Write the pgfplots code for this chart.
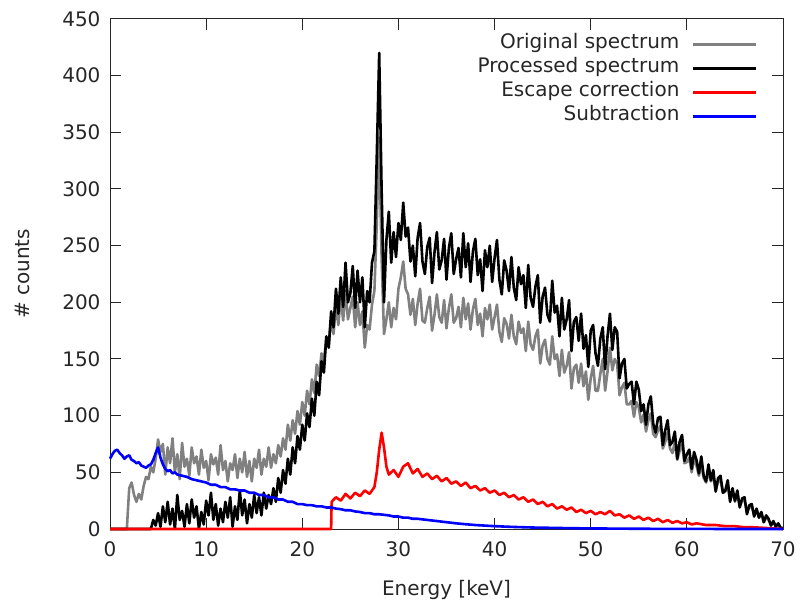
\documentclass[border=0pt]{standalone}
\usepackage{pgfplots}
\pgfplotsset{compat=1.18}
\usepackage{pgfplotstable}
\usepackage{fontspec}
\setmainfont{DejaVu Sans}
\definecolor{origgray}{RGB}{128,128,128}

\pgfplotstableread{
E O P
0 0 0
0.25 0 0
0.5 0 0
0.75 0 0
1.0 0 0
1.25 0 0
1.5 0 0
1.75 0 0
2.0 36 0
2.25 41 0
2.5 30 0
2.75 24 0
3.0 31 0
3.25 26 0
3.5 38 0
3.75 46 0
4.0 44 0
4.25 55 0
4.5 50 8
4.75 62 3
5.0 79 14
5.25 68 2
5.5 75 20
5.75 48 6
6.0 72 24
6.25 58 4
6.5 80 18
6.75 50 0
7.0 66 30
7.25 44 8
7.5 76 16
7.75 55 2
8.0 62 22
8.25 47 5
8.5 72 26
8.75 58 10
9.0 64 20
9.25 48 0
9.5 70 15
9.75 54 4
10.0 60 25
10.25 43 12
10.5 66 32
10.75 57 8
11.0 63 22
11.25 48 3
11.5 74 18
11.75 52 6
12.0 60 24
12.25 42 10
12.5 58 28
12.75 52 2
13.0 66 20
13.25 45 8
13.5 62 34
13.75 50 12
14.0 68 26
14.25 46 5
14.5 60 22
14.75 42 10
15.0 62 30
15.25 54 14
15.5 70 28
15.75 48 12
16.0 62 32
16.25 55 18
16.5 72 30
16.75 54 22
17.0 66 36
17.25 58 24
17.5 74 45
17.75 64 32
18.0 80 52
18.25 70 40
18.5 92 62
18.75 78 48
19.0 96 72
19.25 84 58
19.5 104 82
19.75 92 70
20.0 112 92
20.25 100 78
20.5 122 102
20.75 110 90
21.0 132 115
21.25 120 100
21.5 145 130
21.75 135 118
22.0 155 148
22.25 148 138
22.5 168 170
22.75 162 160
23.0 185 192
23.25 172 178
23.5 198 212
23.75 180 190
24.0 205 222
24.25 184 196
24.5 210 235
24.75 185 200
25.0 195 208
25.25 205 232
25.5 178 195
25.75 200 228
26.0 180 200
26.25 192 222
26.5 160 178
26.75 180 210
27.0 176 200
27.25 198 235
27.5 210 245
27.75 270 330
28.0 345 420
28.25 240 300
28.5 172 200
28.75 185 255
29.0 200 280
29.25 178 235
29.5 195 262
29.75 185 240
30.0 212 270
30.25 222 255
30.5 236 288
30.75 212 258
31.0 207 266
31.25 189 236
31.5 203 250
31.75 180 223
32.0 199 257
32.25 212 270
32.5 184 236
32.75 182 225
33.0 195 249
33.25 205 257
33.5 175 217
33.75 189 244
34.0 207 262
34.25 187 229
34.5 182 237
34.75 202 256
35.0 177 220
35.25 195 248
35.5 207 261
35.75 182 225
36.0 186 238
36.25 196 248
36.5 178 222
36.75 204 261
37.0 185 231
37.25 199 252
37.5 176 218
37.75 194 245
38.0 203 256
38.25 180 224
38.5 190 238
38.75 170 210
39.0 195 246
39.25 185 231
39.5 198 250
39.75 176 218
40.0 187 239
40.25 198 255
40.5 174 220
40.75 165 207
41.0 186 237
41.25 181 228
41.5 168 210
41.75 189 240
42.0 170 213
42.25 163 202
42.5 183 231
42.75 173 216
43.0 177 224
43.25 157 195
43.5 183 233
43.75 163 204
44.0 158 196
44.25 170 214
44.5 176 224
44.75 146 182
45.0 162 205
45.25 167 213
45.5 150 189
45.75 145 183
46.0 170 219
46.25 150 191
46.5 154 197
46.75 135 170
47.0 158 204
47.25 138 176
47.5 144 185
47.75 156 202
48.0 124 157
48.25 142 183
48.5 145 187
48.75 129 166
49.0 146 190
49.25 126 159
49.5 139 171
49.75 114 143
50.0 133 175
50.25 144 180
50.5 122 155
50.75 122 144
51.0 137 168
51.25 150 178
51.5 122 141
51.75 139 170
52.0 160 190
52.25 140 158
52.5 150 178
52.75 146 174
53.0 118 133
53.25 125 146
53.5 129 150
53.75 110 124
54.0 110 128
54.25 113 130
54.5 99 110
54.75 112 130
55.0 107 123
55.25 94 104
55.5 101 110
55.75 86 92
56.0 96 110
56.25 102 117
56.5 84 93
56.75 81 85
57.0 87 98
57.25 91 99
57.5 71 74
57.75 77 87
58.0 85 96
58.25 71 74
58.5 67 77
58.75 77 86
59.0 61 62
59.25 69 77
59.5 75 83
59.75 58 60
60.0 59 66
60.25 63 70
60.5 50 53
60.75 62 68
61.0 56 61
61.25 47 49
61.5 57 64
61.75 45 47
62.0 41 42
62.25 51 57
62.5 42 43
62.75 47 52
63.0 34 33
63.25 42 45
63.5 43 47
63.75 32 32
64.0 33 34
64.25 38 43
64.5 25 24
64.75 33 36
65.0 24 25
65.25 31 34
65.5 20 19
65.75 25 27
66.0 25 28
66.25 15 13
66.5 19 21
66.75 20 22
67.0 12 11
67.25 17 18
67.5 10 10
67.75 14 15
68.0 6 6
68.25 10 12
68.5 8 9
68.75 4 3
69.0 6 7
69.25 3 2
69.5 4 5
69.75 1 1
70.0 0 1
}\spectra

\pgfplotstableread{
E R
0 0
23.0 0
23.05 24
23.5 28
24 25
24.5 31
25 27
25.5 32
26 29
26.5 34
27 31
27.5 37
27.75 50
28 70
28.25 85
28.5 72
28.75 55
29 48
29.5 52
30 46
30.5 55
31 58
31.5 49
32 53
32.5 46
33 49
33.5 44
34 47
34.5 42
35 45
35.5 40
36 42
36.5 38
37 41
37.5 36
38 38
38.5 34
39 36
39.5 32
40 34
40.5 30
41 32
41.5 28
42 30
42.5 26
43 28
43.5 24
44 26
44.5 22
45 24
45.5 20
46 22
46.5 18
47 20
47.5 17
48 19
48.5 15
49 17
49.5 14
50 16
50.5 13
51 15
51.5 13
52 16
52.5 12
53 13
53.5 10
54 12
54.5 9
55 11
55.5 8
56 10
56.5 7
57 9
57.5 6
58 8
58.5 5.5
59 7
59.5 5
60 6
60.5 4
61 5
62 3.5
63 3.5
64 2.5
65 2.5
66 1.5
67 1.5
68 1
69 0.5
70 0
}\escape

\pgfplotstableread{
E S
0 62
0.25 66
0.5 69
0.75 70
1.0 67
1.25 65
1.5 62
1.75 64
2.0 65
2.25 61
2.5 60
2.75 58
3.0 59
3.25 56
3.5 55
3.75 54
4.0 56
4.25 57
4.5 61
4.75 67
5.0 72
5.25 63
5.5 57
5.75 53
6.0 51
6.25 52
6.5 49
6.75 50
7.0 48
7.5 47
8.0 46
8.5 44
9.0 43
9.5 42
10.0 41
10.5 39
11.0 39
11.5 37
12.0 37
12.5 35
13.0 35
13.5 34
14.0 34
14.5 32
15.0 32
15.5 30
16.0 30
16.5 28
17.0 28
17.5 26
18.0 26
18.5 24
19.0 24
19.5 22
20.0 22
20.5 21
21.0 21
21.5 20
22.0 20
22.5 19
23.0 19
23.5 18
24.0 17.5
24.5 16.5
25.0 16.5
25.5 15.5
26.0 15
26.5 14
27.0 14
27.5 13
28.0 13
28.5 12.5
29.0 12
29.5 11
30.0 11
30.5 10
31.0 10
31.5 9
32.0 9
33.0 8
34.0 7
35.0 6
36.0 5
37.0 4.2
38.0 3.5
39.0 3
40.0 2.5
42.0 1.8
44.0 1.3
46.0 1
48.0 0.7
50.0 0.5
55.0 0.2
60.0 0.1
65 0
70 0
}\subtr

\begin{document}
\begin{tikzpicture}[font=\fontsize{20bp}{24bp}\selectfont]
\useasboundingbox (0,0) rectangle (800bp,605bp);
\begin{axis}[
  at={(110bp,76bp)}, anchor=south west,
  scale only axis, width=673bp, height=510bp,
  xmin=0, xmax=70, ymin=0, ymax=450,
  xtick={0,10,...,70}, ytick={0,50,...,450},
  minor tick num=0,
  tick align=inside,
  major tick length=11bp,
  axis line style={line width=1bp, black!85},
  every tick/.style={line width=1bp, black!85},
  /pgf/number format/assume math mode=true,
  tick label style={font=\fontsize{20bp}{24bp}\selectfont, text=black!85},
  xticklabel style={yshift=-9bp},
  yticklabel style={xshift=-6bp},
  xlabel={Energy [keV]},
  ylabel={\# counts},
  label style={font=\fontsize{20bp}{24bp}\selectfont, text=black!85},
  xlabel style={at={(axis description cs:0.5,-0.1196)}, anchor=center},
  ylabel style={at={(axis description cs:-0.1308,0.5)}, anchor=center},
  clip=false,
  legend plot pos=right,
  legend cell align=right,
  legend image code/.code={\draw[#1] (0bp,0bp) -- (63bp,0bp);},
  legend style={draw=none, fill=none, inner sep=0pt, outer sep=0pt,
    at={(0.9614,0.974)}, anchor=north east, row sep=0pt, column sep=12bp,
    font=\fontsize{20bp}{24bp}\selectfont, text=black!85,
    nodes={inner sep=0pt, text height=16bp, text depth=8bp}},
  every axis plot/.append style={line width=2.6bp, line join=round},
]
\addplot[origgray] table[x=E, y=O] {\spectra};
\addlegendentry{Original spectrum}
\addplot[black] table[x=E, y=P] {\spectra};
\addlegendentry{Processed spectrum}
\addplot[red] table[x=E, y=R] {\escape};
\addlegendentry{Escape correction}
\addplot[blue] table[x=E, y=S] {\subtr};
\addlegendentry{Subtraction}
\end{axis}
\end{tikzpicture}
\end{document}
